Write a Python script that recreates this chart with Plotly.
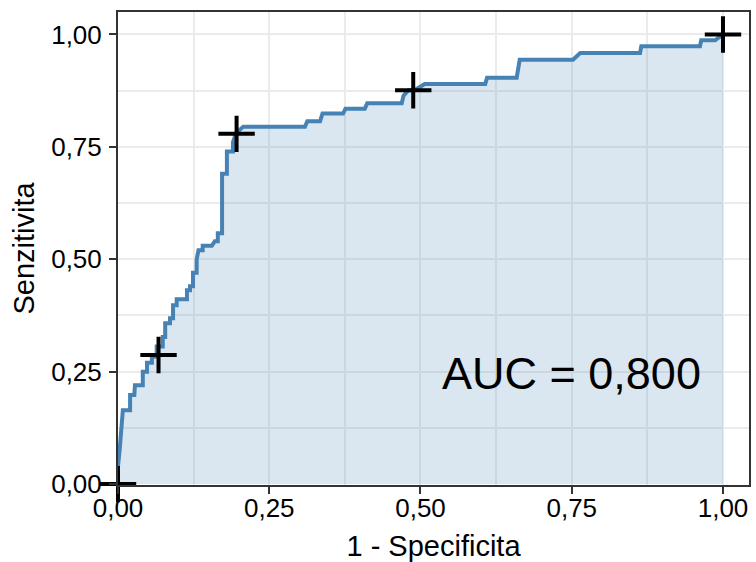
import plotly.graph_objects as go

# ROC curve points (1 - specificity, sensitivity)
fpr = [0.0, 0.0, 0.003, 0.005, 0.008, 0.02, 0.02, 0.027, 0.028, 0.041, 0.041, 0.048, 0.048,
       0.056, 0.056, 0.064, 0.064, 0.074, 0.074, 0.078, 0.078, 0.086, 0.086, 0.091, 0.091,
       0.097, 0.097, 0.114, 0.114, 0.119, 0.119, 0.124, 0.124, 0.13, 0.13, 0.133, 0.14, 0.14,
       0.155, 0.16, 0.165, 0.165, 0.172, 0.172, 0.18, 0.18, 0.19, 0.19, 0.195, 0.207, 0.309,
       0.313, 0.334, 0.338, 0.372, 0.376, 0.408, 0.412, 0.469, 0.472, 0.48, 0.49, 0.507, 0.607,
       0.61, 0.659, 0.661, 0.664, 0.752, 0.764, 0.863, 0.865, 0.962, 0.964, 0.987, 1.0]
tpr = [0.0, 0.04, 0.08, 0.13, 0.164, 0.164, 0.198, 0.198, 0.22, 0.22, 0.25, 0.25, 0.27,
       0.27, 0.283, 0.283, 0.306, 0.306, 0.327, 0.327, 0.358, 0.358, 0.369, 0.369, 0.398,
       0.398, 0.411, 0.411, 0.431, 0.431, 0.44, 0.44, 0.47, 0.47, 0.5, 0.52, 0.52, 0.53,
       0.53, 0.54, 0.54, 0.558, 0.558, 0.69, 0.69, 0.74, 0.74, 0.76, 0.78, 0.795, 0.795,
       0.807, 0.807, 0.824, 0.824, 0.835, 0.835, 0.847, 0.847, 0.864, 0.876, 0.876, 0.89, 0.89,
       0.904, 0.904, 0.917, 0.944, 0.944, 0.959, 0.959, 0.974, 0.974, 0.987, 0.987, 1.0]

# cutoff markers
cut_fpr = [0.0, 0.067, 0.196, 0.488, 1.0]
cut_tpr = [0.0, 0.287, 0.779, 0.876, 1.0]

tick_vals = [0, 0.25, 0.5, 0.75, 1.0]
tick_text = ["0,00", "0,25", "0,50", "0,75", "1,00"]
auc_text = "AUC = 0,800"

FONT = "Liberation Sans, Arial"

fig = go.Figure()
fig.add_trace(go.Scatter(
    x=fpr, y=tpr, mode="lines", fill="tozeroy",
    fillcolor="rgba(70,130,180,0.2)",
    line=dict(color="#4682B4", width=4),
    showlegend=False, hoverinfo="skip"))
fig.add_trace(go.Scatter(
    x=cut_fpr, y=cut_tpr, mode="markers",
    marker=dict(symbol="cross-thin", size=26, color="black",
                line=dict(color="black", width=4)),
    showlegend=False, cliponaxis=False))

fig.add_annotation(x=0.75, y=0.245, text=auc_text, showarrow=False,
                   xanchor="center", yanchor="middle",
                   font=dict(family=FONT, size=45, color="black"))

axis_common = dict(
    tickvals=tick_vals, ticktext=tick_text,
    showgrid=True, gridcolor="#EBEBEB", gridwidth=2,
    minor=dict(dtick=0.125, tick0=0, showgrid=True, gridcolor="#EBEBEB", gridwidth=1.5),
    showline=True, mirror=True, linecolor="#333333", linewidth=2,
    ticks="outside", ticklen=7, tickwidth=1.5, tickcolor="#333333",
    tickfont=dict(family=FONT, size=26, color="black"),
    zeroline=False,
)

fig.update_xaxes(range=[0, 1.043], ticklabelstandoff=-8,
                 title=dict(text="1 - Specificita", standoff=13,
                            font=dict(family=FONT, size=29, color="black")),
                 **axis_common)
fig.update_yaxes(range=[-0.002, 1.05], ticklabelstandoff=2,
                 title=dict(text="Senzitivita", standoff=8,
                            font=dict(family=FONT, size=29, color="black")),
                 **axis_common)

fig.update_layout(
    width=756, height=562,
    margin=dict(l=118, r=7, t=12, b=77, autoexpand=False),
    plot_bgcolor="white", paper_bgcolor="white",
)

fig.write_html("out.html", config={"displayModeBar": False},
               post_script="document.body.style.margin='0px';")
